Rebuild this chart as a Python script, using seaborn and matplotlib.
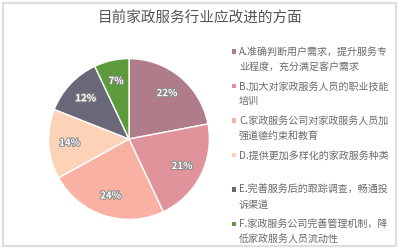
import numpy as np
import seaborn as sns
import matplotlib.pyplot as plt
import matplotlib.patheffects as pe
from matplotlib.patches import Rectangle

sns.set_theme(style="white")
plt.rcParams['font.family'] = ['Noto Sans CJK SC', 'DejaVu Sans']

title = "目前家政服务行业应改进的方面"
labels = [
    "A.准确判断用户需求，提升服务专\n业程度，充分满足客户需求",
    "B.加大对家政服务人员的职业技能\n培训",
    "C.家政服务公司对家政服务人员加\n强道德约束和教育",
    "D.提供更加多样化的家政服务种类",
    "E.完善服务后的跟踪调查，畅通投\n诉渠道",
    "F.家政服务公司完善管理机制，降\n低家政服务人员流动性",
]
values = [22, 21, 24, 14, 12, 7]
colors = sns.color_palette(["#b07c8a", "#e1939b", "#f8b1a2", "#fcd3b6", "#686878", "#5c9a3c"])

W, H = 400, 251
fig = plt.figure(figsize=(W / 100, H / 100), dpi=100)
fig.patch.set_facecolor("white")

# frame around the whole picture
fig.patches.append(Rectangle((3 / W, 4 / H), 393 / W, 243 / H, transform=fig.transFigure,
                             fill=False, edgecolor="#dedede", linewidth=1.6))

fig.text(200 / W, 1 - 19 / H, title, ha="center", va="center", fontsize=10.5, color="#555555")

# pie: centre (129,140), radius 82 px
cx, cy, r = 129, 140, 82
ax = fig.add_axes([(cx - r) / W, 1 - (cy + r) / H, 2 * r / W, 2 * r / H])
wedges, texts, autotexts = ax.pie(
    values, colors=colors, startangle=90, counterclock=False,
    autopct="%d%%", pctdistance=0.74,
    wedgeprops=dict(edgecolor="white", linewidth=1.0),
    textprops=dict(color="white", fontsize=7, fontweight="bold"),
)
for t in autotexts:
    t.set_path_effects([pe.withStroke(linewidth=1.5, foreground="#8a8a8a")])
ax.set_xlim(-1.02, 1.02)
ax.set_ylim(-1.02, 1.02)
ax.set_aspect("equal")
ax.axis("off")

# legend on the right
y0, step = 52, 34.5
for i, (lab, c) in enumerate(zip(labels, colors)):
    y = y0 + i * step
    fig.patches.append(Rectangle((232 / W, 1 - (y + 2.5) / H), 4.5 / W, 4.5 / H,
                                 transform=fig.transFigure, facecolor=c, edgecolor="none"))
    fig.text(239 / W, 1 - (y - 5) / H, lab, ha="left", va="top", fontsize=7.2,
             color="#6a6a6a", linespacing=1.55)

fig.savefig("out.png", dpi=100)
